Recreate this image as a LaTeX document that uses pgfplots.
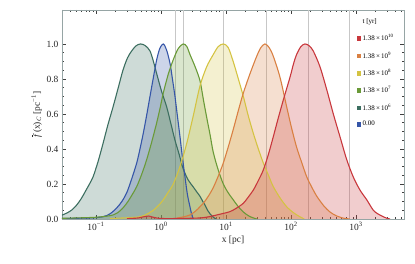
\documentclass[border=0pt]{standalone}
\usepackage{fontspec}
\setmainfont{Liberation Serif}
\usepackage{pgfplots}
\pgfplotsset{compat=1.18}
\usepackage{pgfplotstable}
\definecolor{cred}{RGB}{200,55,60}
\definecolor{corange}{RGB}{217,128,66}
\definecolor{cyellow}{RGB}{212,195,66}
\definecolor{cgreen}{RGB}{106,154,56}
\definecolor{cteal}{RGB}{60,110,96}
\definecolor{cblue}{RGB}{54,86,168}
\definecolor{frame}{RGB}{150,165,165}

\pgfplotstableread{
x y
0.030 0.022
0.036 0.035
0.043 0.053
0.0505 0.08
0.059 0.115
0.068 0.155
0.078 0.195
0.090 0.24
0.108 0.33
0.128 0.43
0.153 0.54
0.183 0.64
0.220 0.75
0.260 0.85
0.305 0.92
0.354 0.96
0.415 0.99
0.487 1.00
0.575 0.99
0.677 0.96
0.765 0.90
0.859 0.83
1.02 0.73
1.224 0.64
1.43 0.54
1.642 0.45
1.90 0.37
2.18 0.29
2.6 0.225
3.11 0.185
3.55 0.155
3.98 0.13
4.40 0.10
4.75 0.08
5.20 0.05
5.67 0.03
6.30 0.012
7.02 0.0
}\tblteal

\pgfplotstableread{
x y
0.030 0.003
0.080 0.006
0.128 0.013
0.165 0.03
0.208 0.063
0.250 0.10
0.297 0.15
0.355 0.23
0.423 0.32
0.475 0.40
0.534 0.49
0.600 0.59
0.677 0.70
0.765 0.81
0.859 0.91
0.96 0.975
1.085 1.00
1.22 0.965
1.375 0.89
1.50 0.80
1.642 0.70
1.80 0.58
1.96 0.47
2.14 0.35
2.34 0.24
2.55 0.14
2.79 0.07
2.95 0.03
3.14 0.0
}\tblblue

\pgfplotstableread{
x y
0.030 0.004
0.100 0.01
0.183 0.023
0.240 0.05
0.297 0.09
0.355 0.135
0.423 0.185
0.510 0.26
0.603 0.34
0.720 0.44
0.859 0.55
0.97 0.635
1.085 0.72
1.30 0.83
1.545 0.91
1.85 0.975
2.20 1.00
2.50 0.985
2.79 0.94
3.35 0.87
3.98 0.79
4.50 0.68
5.05 0.58
5.70 0.48
6.38 0.38
7.60 0.28
9.09 0.20
10.8 0.15
12.9 0.11
15.5 0.07
18.5 0.04
23.0 0.015
29.7 0.0
}\tblgreen

\pgfplotstableread{
x y
0.164 0.003
0.300 0.007
0.475 0.013
0.610 0.028
0.762 0.05
0.92 0.078
1.085 0.11
1.30 0.155
1.545 0.20
1.96 0.30
2.48 0.43
3.14 0.59
3.98 0.76
5.05 0.87
6.38 0.94
7.60 0.985
9.09 1.00
10.8 0.98
12.9 0.90
15.5 0.80
18.5 0.70
22.0 0.59
26.3 0.49
31.5 0.40
37.5 0.32
45.0 0.25
53.4 0.185
68.0 0.12
85.9 0.07
110 0.035
137 0.013
160 0.0
}\tblyellow

\pgfplotstableread{
x y
1.745 0.005
2.20 0.012
2.79 0.023
3.40 0.045
3.98 0.07
4.48 0.09
5.35 0.13
6.38 0.18
7.60 0.245
9.09 0.32
10.8 0.41
12.9 0.51
15.5 0.62
18.5 0.72
23.4 0.83
29.7 0.93
34.5 0.98
39.8 1.00
46.0 0.98
53.4 0.93
67.7 0.81
85.9 0.64
102 0.52
122 0.41
147 0.32
175 0.24
210 0.18
249 0.13
320 0.075
398 0.04
500 0.018
638 0.005
800 0.0
}\tblorange

\pgfplotstableread{
x y
0.30 0.002
0.45 0.006
0.53 0.012
0.65 0.017
0.76 0.010
1.0 0.003
2.0 0.003
3.98 0.006
5.5 0.013
7.19 0.023
9.1 0.032
11.5 0.042
14.5 0.062
18.5 0.09
22.0 0.125
26.3 0.165
31.5 0.22
37.5 0.28
45.0 0.37
53.4 0.47
63.5 0.575
76.2 0.68
96.5 0.81
110 0.89
122 0.94
142 0.985
164 1.00
190 0.99
220 0.96
279 0.87
354 0.74
448 0.60
567 0.47
719 0.34
908 0.24
1153 0.165
1462 0.11
1846 0.05
2200 0.028
2630 0.013
3000 0.004
3336 0.0
}\tblred

\begin{document}
\begin{tikzpicture}[x=1bp,y=1bp]
\useasboundingbox (0,0) rectangle (415,264);
\begin{axis}[
  at={(62bp,45bp)}, anchor=south west,
  width=342bp, height=209bp, scale only axis,
  xmode=log, xmin=0.030, xmax=5475, ymin=0, ymax=1.194,
  axis line style={frame, line width=0.6pt},
  tick align=inside,
  major tick length=4bp, minor tick length=2bp,
  tick style={black!75, line width=0.5pt},
  xtick={0.1,1,10,100,1000},
  xticklabels={10\textsuperscript{−1},10\textsuperscript{0},10\textsuperscript{1},10\textsuperscript{2},10\textsuperscript{3}},
  minor xtick={0.03,0.04,0.05,0.06,0.07,0.08,0.09,0.2,0.3,0.4,0.5,0.6,0.7,0.8,0.9,2,3,4,5,6,7,8,9,20,30,40,50,60,70,80,90,200,300,400,500,600,700,800,900,2000,3000,4000,5000},
  ytick={0,0.2,0.4,0.6,0.8,1.0},
  minor y tick num=3,
  yticklabel style={/pgf/number format/.cd, fixed, fixed zerofill, precision=1, assume math mode=true},
  ticklabel style={font=\fontsize{9.5}{10}\selectfont, text=black!85},
  extra x ticks={1.64,2.18,9.3,41.2,183,780},
  extra x tick labels={},
  extra x tick style={grid=major, major tick length=0pt, major grid style={black!22, line width=0.9pt}},
  xlabel={x [pc]},
  ylabel={$\overline{\textit{f}}$\,(x)\textsubscript{\textit{C}} [pc\textsuperscript{−1}]},
  label style={font=\fontsize{9.5}{10}\selectfont, text=black!85},
  xlabel style={yshift=2bp},
  ylabel style={yshift=-2bp},
  legend style={at={(0.84,0.975)}, anchor=north west, draw=none, fill=none,
    font=\fontsize{7}{8}\selectfont, row sep=5.6bp, inner sep=1bp},
  legend cell align=left,
]
\addplot[draw=none, fill=cteal, fill opacity=0.25, smooth, forget plot] table {\tblteal} \closedcycle;
\addplot[draw=none, fill=cblue, fill opacity=0.25, smooth, forget plot] table {\tblblue} \closedcycle;
\addplot[draw=none, fill=cgreen, fill opacity=0.25, smooth, forget plot] table {\tblgreen} \closedcycle;
\addplot[draw=none, fill=cyellow, fill opacity=0.25, smooth, forget plot] table {\tblyellow} \closedcycle;
\addplot[draw=none, fill=corange, fill opacity=0.25, smooth, forget plot] table {\tblorange} \closedcycle;
\addplot[draw=none, fill=cred, fill opacity=0.25, smooth, forget plot] table {\tblred} \closedcycle;
\addplot[cteal, line width=1.1pt, smooth, forget plot] table {\tblteal};
\addplot[cblue, line width=1.1pt, smooth, forget plot] table {\tblblue};
\addplot[cgreen, line width=1.1pt, smooth, forget plot] table {\tblgreen};
\addplot[cyellow, line width=1.1pt, smooth, forget plot] table {\tblyellow};
\addplot[corange, line width=1.1pt, smooth, forget plot] table {\tblorange};
\addplot[cred, line width=1.1pt, smooth, forget plot] table {\tblred};
\addlegendimage{empty legend}\addlegendentry{t [yr]}
\addlegendimage{only marks, mark=square*, mark size=1.7bp, cred}\addlegendentry{1.38\,×\,10\textsuperscript{10}}
\addlegendimage{only marks, mark=square*, mark size=1.7bp, corange}\addlegendentry{1.38\,×\,10\textsuperscript{9}}
\addlegendimage{only marks, mark=square*, mark size=1.7bp, cyellow}\addlegendentry{1.38\,×\,10\textsuperscript{8}}
\addlegendimage{only marks, mark=square*, mark size=1.7bp, cgreen}\addlegendentry{1.38\,×\,10\textsuperscript{7}}
\addlegendimage{only marks, mark=square*, mark size=1.7bp, cteal}\addlegendentry{1.38\,×\,10\textsuperscript{6}}
\addlegendimage{only marks, mark=square*, mark size=1.7bp, cblue}\addlegendentry{0.00}
\end{axis}
\end{tikzpicture}
\end{document}
